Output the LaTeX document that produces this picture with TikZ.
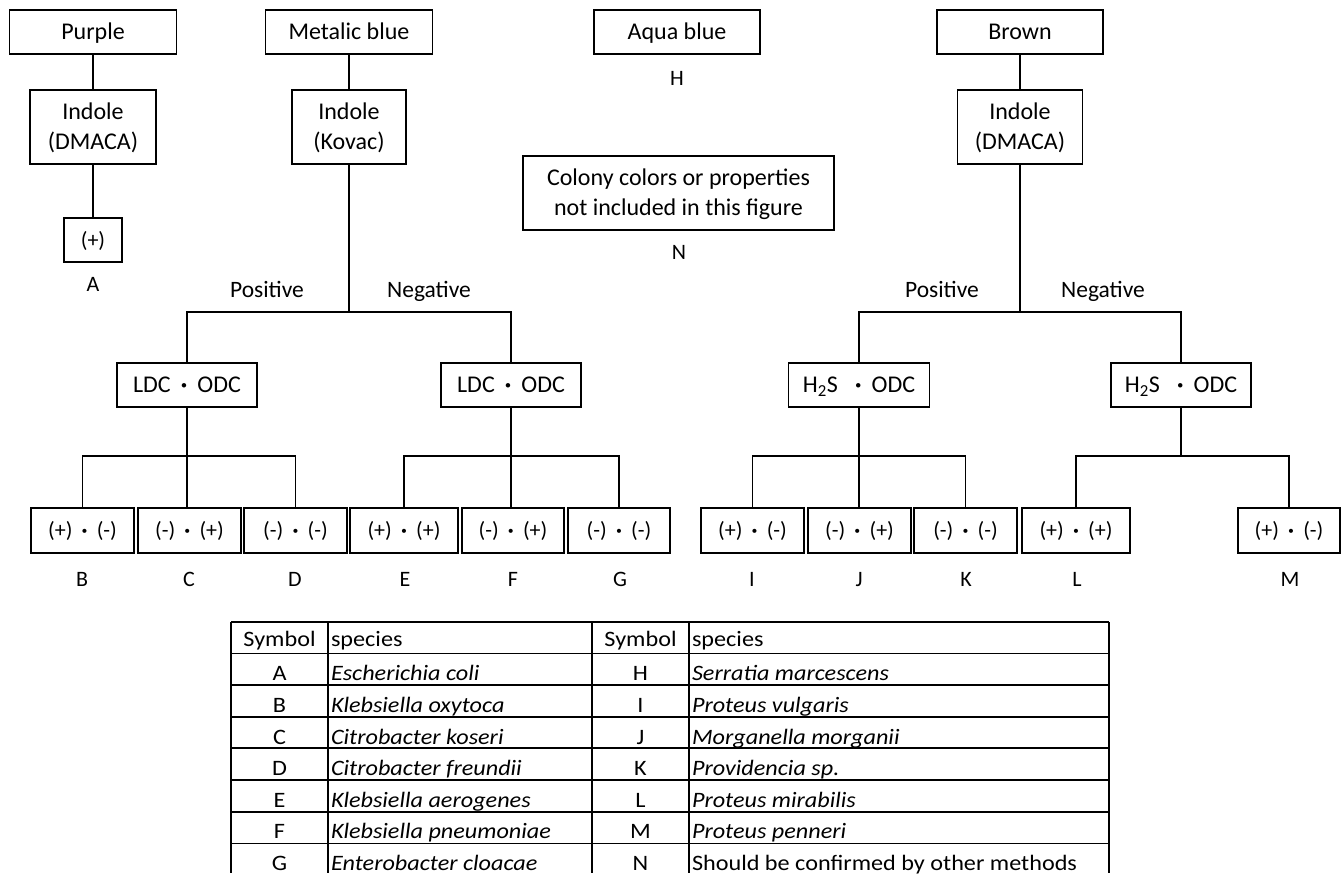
\documentclass[tikz,border=0pt]{standalone}
\usepackage{fontspec}
\setmainfont{Carlito}
\newfontfamily\tabfont[FakeStretch=1.1]{Carlito}
\newcommand{\mdot}{\hspace{0.42em}{\bfseries ·}\hspace{0.42em}}
\begin{document}
\begin{tikzpicture}[x=1pt,y=-1pt,
  every node/.style={inner sep=0pt, outer sep=0pt},
  box/.style={draw, line width=1.8pt, align=center, font=\fontsize{24}{30}\selectfont},
  one/.style={text height=15.5pt, text depth=0pt},
  two/.style={text height=45.5pt, text depth=0pt},
  leaf/.style={box, minimum height=45pt, text height=14pt, text depth=0pt, font=\fontsize{22}{26}\selectfont},
  mid/.style={box, minimum height=44pt, text height=15.5pt, text depth=0pt, font=\fontsize{24}{28}\selectfont},
  lab/.style={anchor=base, font=\fontsize{22}{26}\selectfont},
  branch/.style={anchor=base, font=\fontsize{23.5}{28}\selectfont},
  conn/.style={line width=1.8pt},
  grid/.style={line width=1.2pt},
  cell/.style={anchor=base, font=\tabfont\fontsize{22}{26}\selectfont},
  spc/.style={anchor=base west, font=\tabfont\fontsize{22}{26}\selectfont},
]
\useasboundingbox (0,0) rectangle (1343,873);

% ---- top row
\node[box, one, minimum width=167pt, minimum height=44pt] (purple) at (93,32) {Purple};
\node[box, one, minimum width=167pt, minimum height=44pt] (metal) at (349,32) {Metalic blue};
\node[box, one, minimum width=166pt, minimum height=44pt] (aqua) at (677,32) {Aqua blue};
\node[box, one, minimum width=166pt, minimum height=44pt] (brown) at (1020,32) {Brown};

% ---- indole boxes
\node[box, two, minimum width=126pt, minimum height=74pt] (ind1) at (93,127) {Indole\\(DMACA)};
\node[box, two, minimum width=114pt, minimum height=74pt] (ind2) at (349,127) {Indole\\(Kovac)};
\node[box, two, minimum width=125pt, minimum height=74pt] (ind3) at (1020,127) {Indole\\(DMACA)};

\node[box, one, minimum width=58pt, minimum height=44pt, font=\fontsize{22}{26}\selectfont] (plus) at (93,240) {(+)};
\node[lab] (lA) at (93,291) {A};
\node[lab] (lH) at (677,85) {H};

\node[box, two, minimum width=311pt, minimum height=74pt] (colony) at (678.5,193) {Colony colors or properties\\not included in this figure};
\node[lab] (lN) at (679,259) {N};

% ---- branch labels
\node[branch] (pos1) at (267,297.5) {Positive};
\node[branch] (neg1) at (429,297.5) {Negative};
\node[branch] (pos2) at (942,297.5) {Positive};
\node[branch] (neg2) at (1103,297.5) {Negative};

% ---- second level
\node[mid, minimum width=140pt] (ldc1) at (187,385) {LDC\mdot ODC};
\node[mid, minimum width=140pt] (ldc2) at (511,385) {LDC\mdot ODC};
\node[mid, minimum width=141pt] (h2s1) at (859,385) {H\textsubscript{2}S\hspace{0.3em}\mdot ODC};
\node[mid, minimum width=140pt] (h2s2) at (1181,385) {H\textsubscript{2}S\hspace{0.3em}\mdot ODC};

% ---- leaves
\node[leaf, minimum width=103pt] (B) at (82.5,530.5) {(+)\mdot(-)};
\node[leaf, minimum width=103pt] (C) at (189.5,530.5) {(-)\mdot(+)};
\node[leaf, minimum width=103pt] (D) at (295.5,530.5) {(-)\mdot(-)};
\node[leaf, minimum width=108pt] (E) at (404,530.5) {(+)\mdot(+)};
\node[leaf, minimum width=102pt] (F) at (513,530.5) {(-)\mdot(+)};
\node[leaf, minimum width=102pt] (G) at (619,530.5) {(-)\mdot(-)};
\node[leaf, minimum width=103pt] (I) at (752.5,530.5) {(+)\mdot(-)};
\node[leaf, minimum width=103pt] (J) at (859.5,530.5) {(-)\mdot(+)};
\node[leaf, minimum width=103pt] (K) at (965.5,530.5) {(-)\mdot(-)};
\node[leaf, minimum width=108pt] (L) at (1076,530.5) {(+)\mdot(+)};
\node[leaf, minimum width=102pt] (M) at (1289,530.5) {(+)\mdot(-)};

% ---- leaf letters
\foreach \n/\x in {B/82,C/189,D/295,E/405,F/513,G/620,I/752,J/859,K/966,L/1077,M/1290}
  \node[lab] (l\n) at (\x,586) {\n};

% ---- connectors
\draw[conn] (purple) -- (ind1);
\draw[conn] (ind1) -- (plus);
\draw[conn] (metal) -- (ind2);
\draw[conn] (brown) -- (ind3);

\coordinate (jL) at (349,312);
\draw[conn] (ind2) -- (jL);
\draw[conn] (ldc1.north) |- (jL) -| (ldc2.north);

\coordinate (jR) at (1020,312);
\draw[conn] (ind3) -- (jR);
\draw[conn] (h2s1.north) |- (jR) -| (h2s2.north);

\coordinate (j1) at (187,456);
\draw[conn] (ldc1) -- (j1);
\draw[conn] (B.north) |- (j1) -| (D.north);
\draw[conn] (j1) -- (j1 |- C.north);

\coordinate (j2) at (511,456);
\draw[conn] (ldc2) -- (j2);
\draw[conn] (E.north) |- (j2) -| (G.north);
\draw[conn] (j2) -- (j2 |- F.north);

\coordinate (j3) at (859,456);
\draw[conn] (h2s1) -- (j3);
\draw[conn] (I.north) |- (j3) -| (K.north);
\draw[conn] (j3) -- (j3 |- J.north);

\coordinate (j4) at (1181,456);
\draw[conn] (h2s2) -- (j4);
\draw[conn] (L.north) |- (j4) -| (M.north);

% ---- table
\foreach \y in {622,653.5,685,717,748,780,812,843.5}
  \draw[grid] (231,\y) -- (1109,\y);
\foreach \x in {231,328,592,689,1109}
  \draw[grid] (\x,622) -- (\x,873);

\node[cell] (h1) at (279.5,646) {Symbol};
\node[spc] (h2) at (331,646) {species};
\node[cell] (h3) at (640.5,646) {Symbol};
\node[spc] (h4) at (692,646) {species};

\foreach \s/\t/\u/\v/\y in {
  A/Escherichia coli/H/Serratia marcescens/680,
  B/Klebsiella oxytoca/I/Proteus vulgaris/712,
  C/Citrobacter koseri/J/Morganella morganii/744,
  D/Citrobacter freundii/K/Providencia sp./775,
  E/Klebsiella aerogenes/L/Proteus mirabilis/807,
  F/Klebsiella pneumoniae/M/Proteus penneri/838}{
  \node[cell] (s\s) at (279.5,\y) {\s};
  \node[spc] (t\s) at (331,\y) {\itshape \t};
  \node[cell] (s\u) at (640.5,\y) {\u};
  \node[spc] (t\u) at (692,\y) {\itshape \v};
}
\node[cell] (sG) at (279.5,870) {G};
\node[spc] (tG) at (331,870) {\itshape Enterobacter cloacae};
\node[cell] (sN) at (640.5,870) {N};
\node[spc] (tN) at (692,870) {Should be confirmed by other methods};
\end{tikzpicture}
\end{document}
